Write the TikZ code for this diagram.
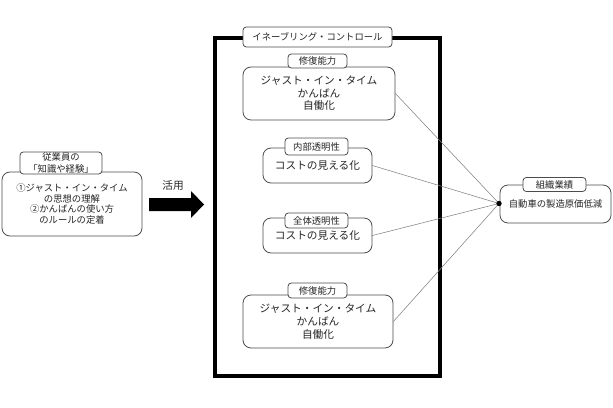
\documentclass[tikz,border=0pt]{standalone}
\usepackage{fontspec}
\setmainfont{Noto Sans CJK JP}
\usetikzlibrary{positioning}
\tikzset{
  every picture/.append style={line cap=round,line join=round},
  ctl frame/.style={line width=3pt,line cap=rect,line join=miter},
  ctl box/.style={draw=black!70,fill=white,rounded corners=6pt,line width=0.6pt,
    inner sep=0pt,align=center,text=black!85,font=\fontsize{8}{9.4}\selectfont},
  ctl small/.style={ctl box,font=\fontsize{7}{8}\selectfont},
  ctl tab/.style={draw=black!70,fill=white,rounded corners=2.5pt,line width=0.6pt,
    inner sep=0pt,align=center,text=black!85,font=\fontsize{7}{8.5}\selectfont},
  ctl link/.style={black!50,line width=0.4pt},
  ctl dot/.style={circle,fill=black,inner sep=0pt,minimum size=4pt}
}
\begin{document}
\begin{tikzpicture}[x=0.75pt,y=-0.75pt]
  \useasboundingbox (0,0) rectangle (613,407);

  % left: employee knowledge
  \node[ctl small,minimum width=105pt,minimum height=48pt] (jugyoin) at (72,204)
    {①ジャスト・イン・タイム\\の思想の理解\\②かんばんの使い方\\のルールの定着};
  \node[ctl tab,minimum width=61.5pt,minimum height=16.5pt,font=\fontsize{7}{8.5}\selectfont]
    (jugyoin tab) at (61,163) {従業員の\\「知識や経験」};

  % block arrow
  \fill (149,198) -- (191,198) -- (191,191) -- (204,204.5) -- (191,218)
    -- (191,211) -- (149,211) -- cycle;
  \node[font=\fontsize{8}{9}\selectfont,text=black!85] (katsuyo) at (173,185) {活用};

  % enabling control frame
  \draw[ctl frame] (215,38) rectangle (440,376);
  \node[ctl tab,minimum width=111.75pt,minimum height=15pt] (frame tab) at (317.5,37)
    {イネーブリング・コントロール};

  \node[ctl box,minimum width=114pt,minimum height=39.75pt] (fukugen1) at (319,93.5)
    {ジャスト・イン・タイム\\かんばん\\自働化};
  \node[ctl tab,minimum width=44.25pt,minimum height=10.5pt] (fukugen1 tab) at (317.5,61) {修復能力};

  \node[ctl box,minimum width=81.75pt,minimum height=26.25pt] (naibu) at (317.5,165.5)
    {コストの見える化};
  \node[ctl tab,minimum width=47.25pt,minimum height=12.75pt] (naibu tab) at (316.5,146.5) {内部透明性};

  \node[ctl box,minimum width=81.75pt,minimum height=26.25pt] (zentai) at (317.5,235.5)
    {コストの見える化};
  \node[ctl tab,minimum width=47.25pt,minimum height=11.25pt] (zentai tab) at (316.5,220.5) {全体透明性};

  \node[ctl box,minimum width=112.5pt,minimum height=39.75pt,
    font=\fontsize{8}{9.8}\selectfont] (fukugen2) at (318,321.5)
    {ジャスト・イン・タイム\\かんばん\\自働化};
  \node[ctl tab,minimum width=44.25pt,minimum height=11.25pt] (fukugen2 tab) at (317.5,290.5) {修復能力};

  % right: organisational performance
  \node[ctl small,minimum width=83.25pt,minimum height=28.5pt] (soshiki) at (555.5,204)
    {自動車の製造原価低減};
  \node[ctl tab,minimum width=47.25pt,minimum height=10.5pt] (soshiki tab) at (554.5,184.5) {組織業績};

  \coordinate (hub) at (499,203.5);
  \foreach \b in {fukugen1,naibu,zentai,fukugen2}
    \draw[ctl link] (\b.east) -- (hub);
  \node[ctl dot] (hub dot) at (hub) {};
\end{tikzpicture}
\end{document}
